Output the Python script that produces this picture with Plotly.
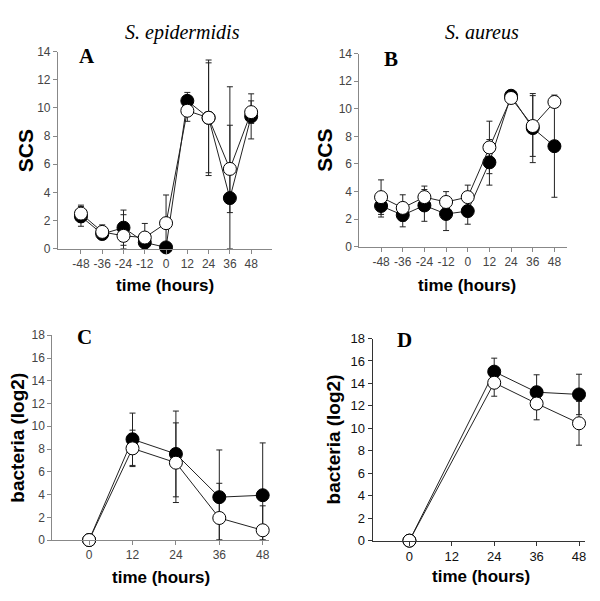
import plotly.graph_objects as go

# ---------------- data ----------------
A_times = [-48, -36, -24, -12, 0, 12, 24, 36, 48]
A_filled = [2.3, 1.05, 1.5, 0.45, 0.1, 10.5, 9.3, 3.6, 9.4]
A_filled_err = [0.7, 0.4, 1.25, 0.4, 0.3, 0.6, 3.9, 7.9, 1.6]
A_open = [2.5, 1.2, 0.92, 0.8, 1.82, 9.8, 9.3, 5.67, 9.7]
A_open_err = [0.6, 0.5, 1.5, 1.0, 2.0, 0.75, 4.1, 3.1, 0.8]

B_times = [-48, -36, -24, -12, 0, 12, 24, 36, 48]
B_filled = [2.96, 2.3, 3.0, 2.38, 2.59, 6.12, 10.94, 8.6, 7.29]
B_filled_err = [0.8, 0.85, 1.15, 1.2, 0.95, 1.65, 0.2, 2.5, 3.7]
B_open = [3.6, 2.82, 3.6, 3.25, 3.6, 7.2, 10.78, 8.75, 10.49]
B_open_err = [1.25, 0.95, 0.8, 0.75, 0.87, 1.9, 0.2, 2.2, 0.4]

C_times = [0, 12, 24, 36, 48]
C_filled = [0, 8.86, 7.57, 3.77, 3.94]
C_filled_err = [0, 2.3, 3.77, 4.15, 4.6]
C_open = [0, 8.06, 6.8, 1.94, 0.86]
C_open_err = [0, 1.6, 3.5, 3.05, 2.15]

D_times = [0, 24, 36, 48]
D_filled = [0, 15.05, 13.22, 13.02]
D_filled_err = [0, 1.2, 1.55, 1.8]
D_open = [0, 14.06, 12.21, 10.45]
D_open_err = [0, 1.2, 1.45, 1.95]

SCS_ticks = [0, 2, 4, 6, 8, 10, 12, 14]
BAC_ticks = [0, 2, 4, 6, 8, 10, 12, 14, 16, 18]
TIME_ticks_AB = [-48, -36, -24, -12, 0, 12, 24, 36, 48]
TIME_labels_AB = ["-48", "-36", "-24", "-12", "0", "12", "24", "36", "48"]
TIME_ticks_CD = [0, 12, 24, 36, 48]
TIME_labels_CD = ["0", "12", "24", "36", "48"]

W, H = 600, 601
SANS = "Arial, Liberation Sans, sans-serif"
SERIF = "Times New Roman, Liberation Serif, serif"


def px(x):
    return x / W


def py(y):
    return 1 - y / H


fig = go.Figure()

panels = [
    ("x", "y", A_times, A_filled, A_filled_err, A_open, A_open_err),
    ("x2", "y2", B_times, B_filled, B_filled_err, B_open, B_open_err),
    ("x3", "y3", C_times, C_filled, C_filled_err, C_open, C_open_err),
    ("x4", "y4", D_times, D_filled, D_filled_err, D_open, D_open_err),
]

for xa, ya, t, fv, fe, ov, oe in panels:
    # error bars first (behind everything)
    for vals, errs in ((fv, fe), (ov, oe)):
        fig.add_trace(go.Scatter(
            x=t, y=vals, xaxis=xa, yaxis=ya, mode="markers",
            marker=dict(size=1, opacity=0),
            error_y=dict(type="data", array=errs,
                         arrayminus=[min(e, v) for e, v in zip(errs, vals)],
                         symmetric=False, color="#222", thickness=1, width=3),
            showlegend=False, hoverinfo="skip"))
    # filled series
    fig.add_trace(go.Scatter(
        x=t, y=fv, xaxis=xa, yaxis=ya, mode="lines+markers",
        line=dict(color="#222", width=1),
        marker=dict(size=13, color="black", line=dict(color="black", width=1)),
        cliponaxis=False, showlegend=False))
    # open series
    fig.add_trace(go.Scatter(
        x=t, y=ov, xaxis=xa, yaxis=ya, mode="lines+markers",
        line=dict(color="#222", width=1),
        marker=dict(size=13, color="white", line=dict(color="black", width=1)),
        cliponaxis=False, showlegend=False))


def axis(domain, rng, ticks, anchor, labels=None, color="#888", fcolor="#444", fsize=12):
    d = dict(domain=domain, range=rng, tickvals=ticks, anchor=anchor,
             showgrid=False, zeroline=False, showline=True, linecolor=color,
             linewidth=1, ticks="outside", ticklen=4, tickcolor=color,
             tickangle=0,
             tickfont=dict(family=SANS, size=fsize, color=fcolor))
    if labels is not None:
        d["ticktext"] = labels
    return d


fig.update_layout(
    width=W, height=H, margin=dict(l=0, r=0, t=0, b=0),
    paper_bgcolor="white", plot_bgcolor="white",
    xaxis=axis([px(58), px(272)], [-61, 59.5], TIME_ticks_AB, "y", TIME_labels_AB),
    yaxis=axis([py(248), py(45.7)], [0, 14], SCS_ticks, "x"),
    xaxis2=axis([px(360), px(568)], [-60, 55], TIME_ticks_AB, "y2", TIME_labels_AB),
    yaxis2=axis([py(246), py(47.7)], [0, 14], SCS_ticks, "x2"),
    xaxis3=axis([px(52.3), px(269.3)], [-10.2, 49.7], TIME_ticks_CD, "y3", TIME_labels_CD),
    yaxis3=axis([py(546.7), py(336.7)], [0, 18], BAC_ticks, "x3"),
    xaxis4=axis([px(373.3), px(586)], [-10.4, 49.7], TIME_ticks_CD, "y4", TIME_labels_CD,
                color="#333", fcolor="#111", fsize=13),
    yaxis4=axis([py(547.3), py(340)], [0, 18], BAC_ticks, "x4",
                color="#333", fcolor="#111", fsize=13),
)

ann = []


def text(x, y, s, family, size, angle=0):
    ann.append(dict(x=px(x), y=py(y), xref="paper", yref="paper", text=s,
                    showarrow=False, xanchor="center", yanchor="middle",
                    textangle=angle, font=dict(family=family, size=size, color="black")))


text(183, 26, "<i>S. epidermidis</i>", SERIF, 20)
text(482.7, 26, "<i>S. aureus</i>", SERIF, 20)
text(87, 50, "<b>A</b>", SERIF, 21)
text(391.7, 53, "<b>B</b>", SERIF, 21)
text(85, 338, "<b>C</b>", SERIF, 21)
text(405, 341.7, "<b>D</b>", SERIF, 21)
text(25, 147, "<b>SCS</b>", SANS, 21, -90)
text(325, 147, "<b>SCS</b>", SANS, 21, -90)
text(18, 441.7, "<b>bacteria (log2)</b>", SANS, 19, -90)
text(335, 443, "<b>bacteria (log2)</b>", SANS, 19, -90)
text(165, 286, "<b>time (hours)</b>", SANS, 17)
text(468, 286, "<b>time (hours)</b>", SANS, 17)
text(161.7, 585, "<b>time (hours)</b>", SANS, 17)
text(481.7, 584, "<b>time (hours)</b>", SANS, 17)

fig.update_layout(annotations=ann)
fig.write_html("out.html", config={"displayModeBar": False},
               post_script="document.body.style.margin='0px';document.body.style.overflow='hidden';")
